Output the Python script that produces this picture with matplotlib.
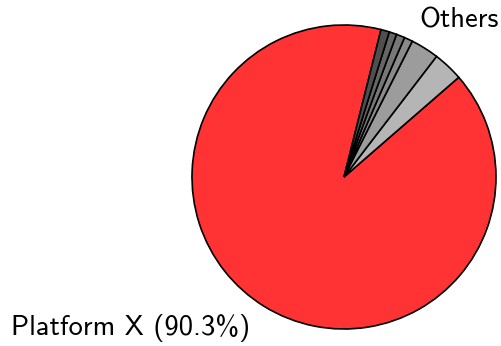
import matplotlib
matplotlib.use("Agg")
import matplotlib.pyplot as plt

labels = ["Platform X (90.3%)", "", "", "", "", "", ""]
values = [90.3, 3.2, 3.0, 0.9, 0.9, 0.8, 0.9]
colors = ["#ff3333", "#b5b5b5", "#9c9c9c", "#8a8a8a", "#777777", "#666666", "#4f4f4f"]
others_label = "Others"

plt.rcParams['font.family'] = ['cmss10', 'DejaVu Sans']

W, H = 501, 346
fig = plt.figure(figsize=(W/100, H/100), dpi=100)
cx, cy, r = 344, 177, 152
ax = fig.add_axes([(cx - r)/W, (H - cy - r)/H, 2*r/W, 2*r/H])

start = 75.9
wedges = ax.pie(values, colors=colors, startangle=start, counterclock=True,
                wedgeprops=dict(edgecolor="black", linewidth=1.2))[0]
fig.text(250/W, 1 - 335/H, labels[0], fontsize=20.5, ha="right", va="baseline")
fig.text(419/W, 1 - 27.5/H, others_label, fontsize=20.5, ha="left", va="baseline")
ax.set_xlim(-1, 1)
ax.set_ylim(-1, 1)
ax.set_aspect("auto")
fig.savefig("out.png", dpi=100)
